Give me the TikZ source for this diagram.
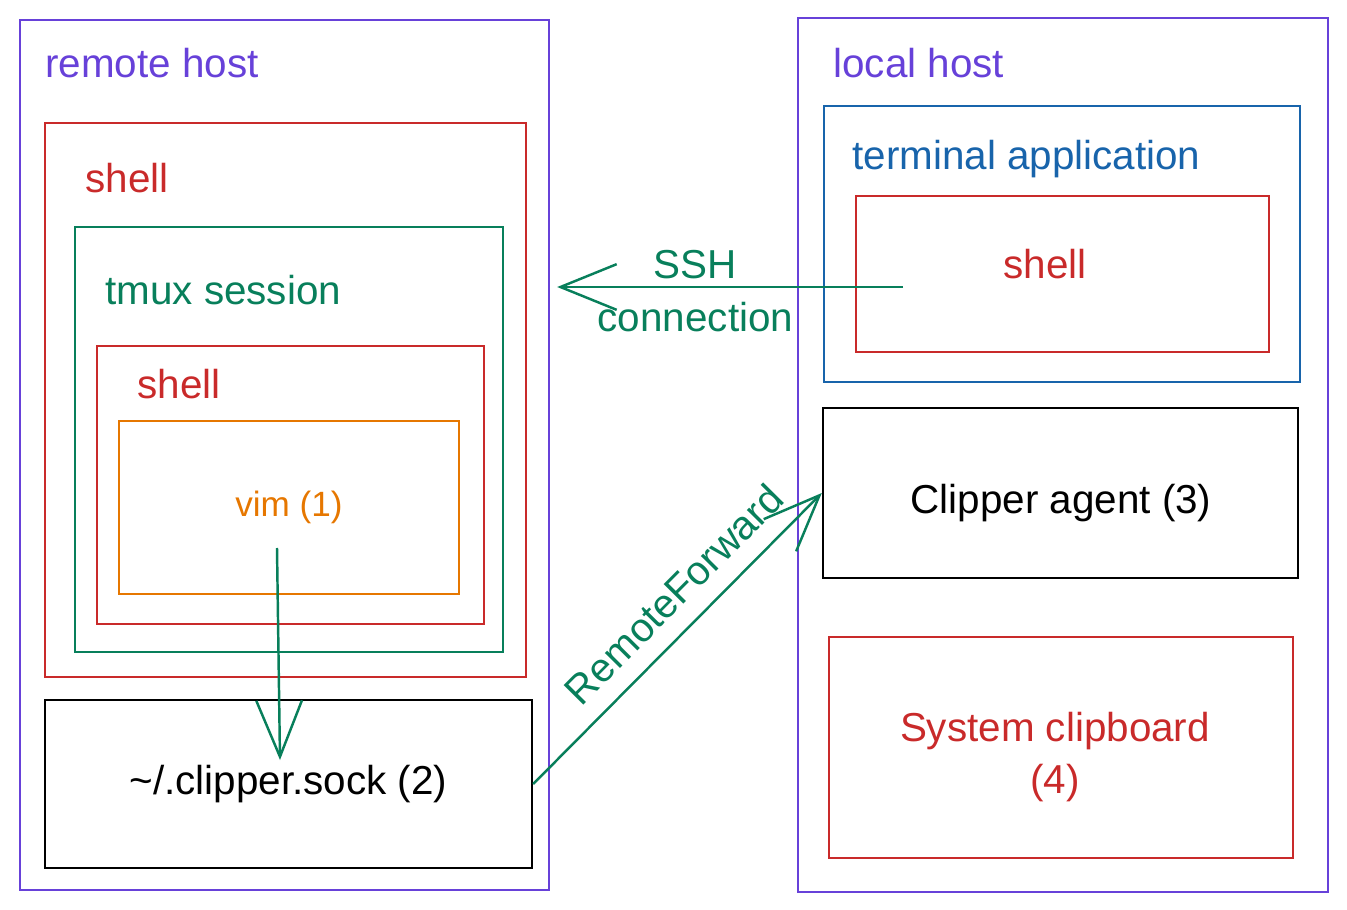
\documentclass[tikz,border=0pt]{standalone}
\usepackage{fontspec}
\setmainfont{Liberation Sans}
\usetikzlibrary{arrows.meta}
\definecolor{violetxl}{RGB}{103,65,217}
\definecolor{rougexl}{RGB}{201,42,42}
\definecolor{vertxl}{RGB}{8,127,91}
\definecolor{bleuxl}{RGB}{24,100,171}
\definecolor{orangexl}{RGB}{230,119,0}
\newcommand{\taille}{\fontsize{23}{30}\selectfont}
\tikzstyle{boite}=[draw, rectangle, line width=1.4pt, inner sep=0pt, align=center, font=\taille]
\tikzstyle{titre}=[anchor=west, inner sep=0pt, font=\taille]
\tikzstyle{fleche}=[vertxl, line width=1.4pt, -{Straight Barb[length=32pt,width=26pt]}]
\tikzstyle{etiq}=[inner sep=1pt, font=\taille]

\begin{document}
\begin{tikzpicture}[x=0.02cm,y=-0.02cm]
\useasboundingbox (0,0) rectangle (1347,910);

% remote host
\node[boite,violetxl,minimum width=10.58cm,minimum height=17.4cm] (remote) at (284.5,455) {};
\node[titre,violetxl] (tremote) at (45,63) {remote host};
\node[boite,rougexl,minimum width=9.62cm,minimum height=11.08cm] (shellr) at (285.5,400) {};
\node[titre,rougexl] (tshellr) at (85,178) {shell};
\node[boite,vertxl,minimum width=8.56cm,minimum height=8.5cm] (tmux) at (289,439.5) {};
\node[titre,vertxl] (ttmux) at (105,290) {tmux session};
\node[boite,rougexl,minimum width=7.74cm,minimum height=5.56cm] (shelli) at (290.5,485) {};
\node[titre,rougexl] (tshelli) at (137,384) {shell};
\node[boite,orangexl,minimum width=6.8cm,minimum height=3.46cm,font=\fontsize{20}{24}\selectfont] (vim) at (289,507.5) {vim (1)};
\node[boite,minimum width=9.74cm,minimum height=3.36cm] (sock) at (288.5,784) {\textasciitilde/.clipper.sock (2)};

% local host
\node[boite,violetxl,minimum width=10.6cm,minimum height=17.48cm] (local) at (1063,455) {};
\node[titre,violetxl] (tlocal) at (833,63) {local host};
\node[boite,bleuxl,minimum width=9.52cm,minimum height=5.52cm] (term) at (1062,244) {};
\node[titre,bleuxl] (tterm) at (852,159) {terminal application};
\node[boite,rougexl,minimum width=8.26cm,minimum height=3.12cm] (shelll) at (1062.5,274) {};
\node[etiq,rougexl] (tshelll) at (1045,264) {shell};
\node[boite,minimum width=9.5cm,minimum height=3.4cm] (agent) at (1060.5,493) {};
\node[etiq] (tagent) at (1061,503) {Clipper agent (3)};
\node[boite,rougexl,minimum width=9.28cm,minimum height=4.42cm] (clip) at (1061,747.5) {};
\node[etiq,rougexl,align=center] (tclip) at (1055,757) {System clipboard\\(4)};

\coordinate (sshdep) at (903,287);
\draw[fleche] (sshdep) -- ([xshift=0.14cm]remote.east |- sshdep)
  node[etiq,pos=0.6,above=3pt] (tssh) {SSH}
  node[etiq,pos=0.6,below=7pt] (tconn) {connection};
\draw[fleche] ([xshift=-0.24cm,yshift=-0.81cm]vim.center) -- ([xshift=-0.17cm,yshift=0.48cm]sock.center);
\draw[fleche] (sock.east) -- (agent.west)
  node[etiq,pos=0.57,sloped,above=0.32cm] (tfwd) {RemoteForward};

\end{tikzpicture}
\end{document}
